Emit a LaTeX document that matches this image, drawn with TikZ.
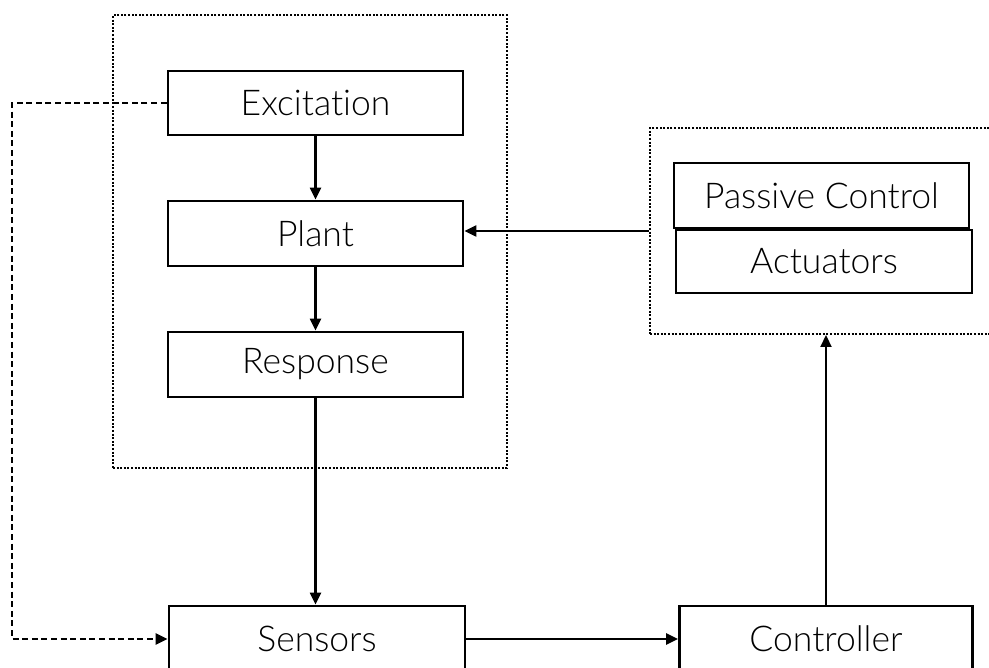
\documentclass[tikz,border=0pt]{standalone}
\usepackage{fontspec}
\setmainfont{Lato}[UprightFont={* Light}, Ligatures={NoCommon, NoDiscretionary, NoContextual}]
\usetikzlibrary{arrows.meta,positioning,calc}

\tikzset{
  blk/.style={draw, line width=2.8pt, rectangle, minimum width=295pt, minimum height=64pt,
              inner sep=0pt, font=\fontsize{35.5}{38}\selectfont},
  grp/.style={draw, line width=2pt, dash pattern=on 2pt off 1.6pt, rectangle, inner sep=0pt},
  flow/.style={line width=2.2pt, -{Triangle[length=12pt,width=11pt]}},
  link/.style={line width=2.4pt, dash pattern=on 6pt off 3.6pt, -{Triangle[length=12pt,width=11pt]}},
}

\begin{document}
\begin{tikzpicture}[x=1pt, y=-1pt]
  \useasboundingbox (0,0) rectangle (989,668);
  \clip (0,0) rectangle (989,668);

  % dotted groupings
  \node[grp, minimum width=394pt, minimum height=453pt] (plantgrp) at (310,241.5) {};
  \node[grp, minimum width=360pt, minimum height=206pt] (ctrlgrp) at (830,231) {};

  % main blocks
  \node[blk] (exc)  at (315.5,103)   {Excitation};
  \node[blk, minimum height=65pt] (plant) at (315.5,233.5) {Plant};
  \node[blk, minimum height=65pt] (resp)  at (315.5,364.5) {Response};
  \node[blk, minimum width=296pt, minimum height=66pt] (sens) at (317,639) {Sensors};
  \node[blk, minimum width=293pt, minimum height=66pt] (ctrl) at (826,639) {Controller};
  \node[blk, minimum height=65pt] (passive) at (821.5,195.5) {Passive Control};
  \node[blk, minimum width=296pt, minimum height=63pt] (act) at (824,261.5) {Actuators};

  % signal flow
  \draw[flow] (exc) -- (plant);
  \draw[flow] (plant) -- (resp);
  \draw[flow] (resp.south) -- (resp.south |- sens.north);
  \draw[flow] (sens) -- (ctrl);
  \draw[flow] (ctrl.north) -- (ctrl.north |- ctrlgrp.south);
  \draw[flow] (ctrlgrp.west) -- (ctrlgrp.west -| plant.east);

  % excitation measured directly
  \coordinate (lft) at (12,0);
  \draw[link] (exc.west) -- (exc.west -| lft) -- (sens.west -| lft) -- (sens.west);
\end{tikzpicture}
\end{document}
